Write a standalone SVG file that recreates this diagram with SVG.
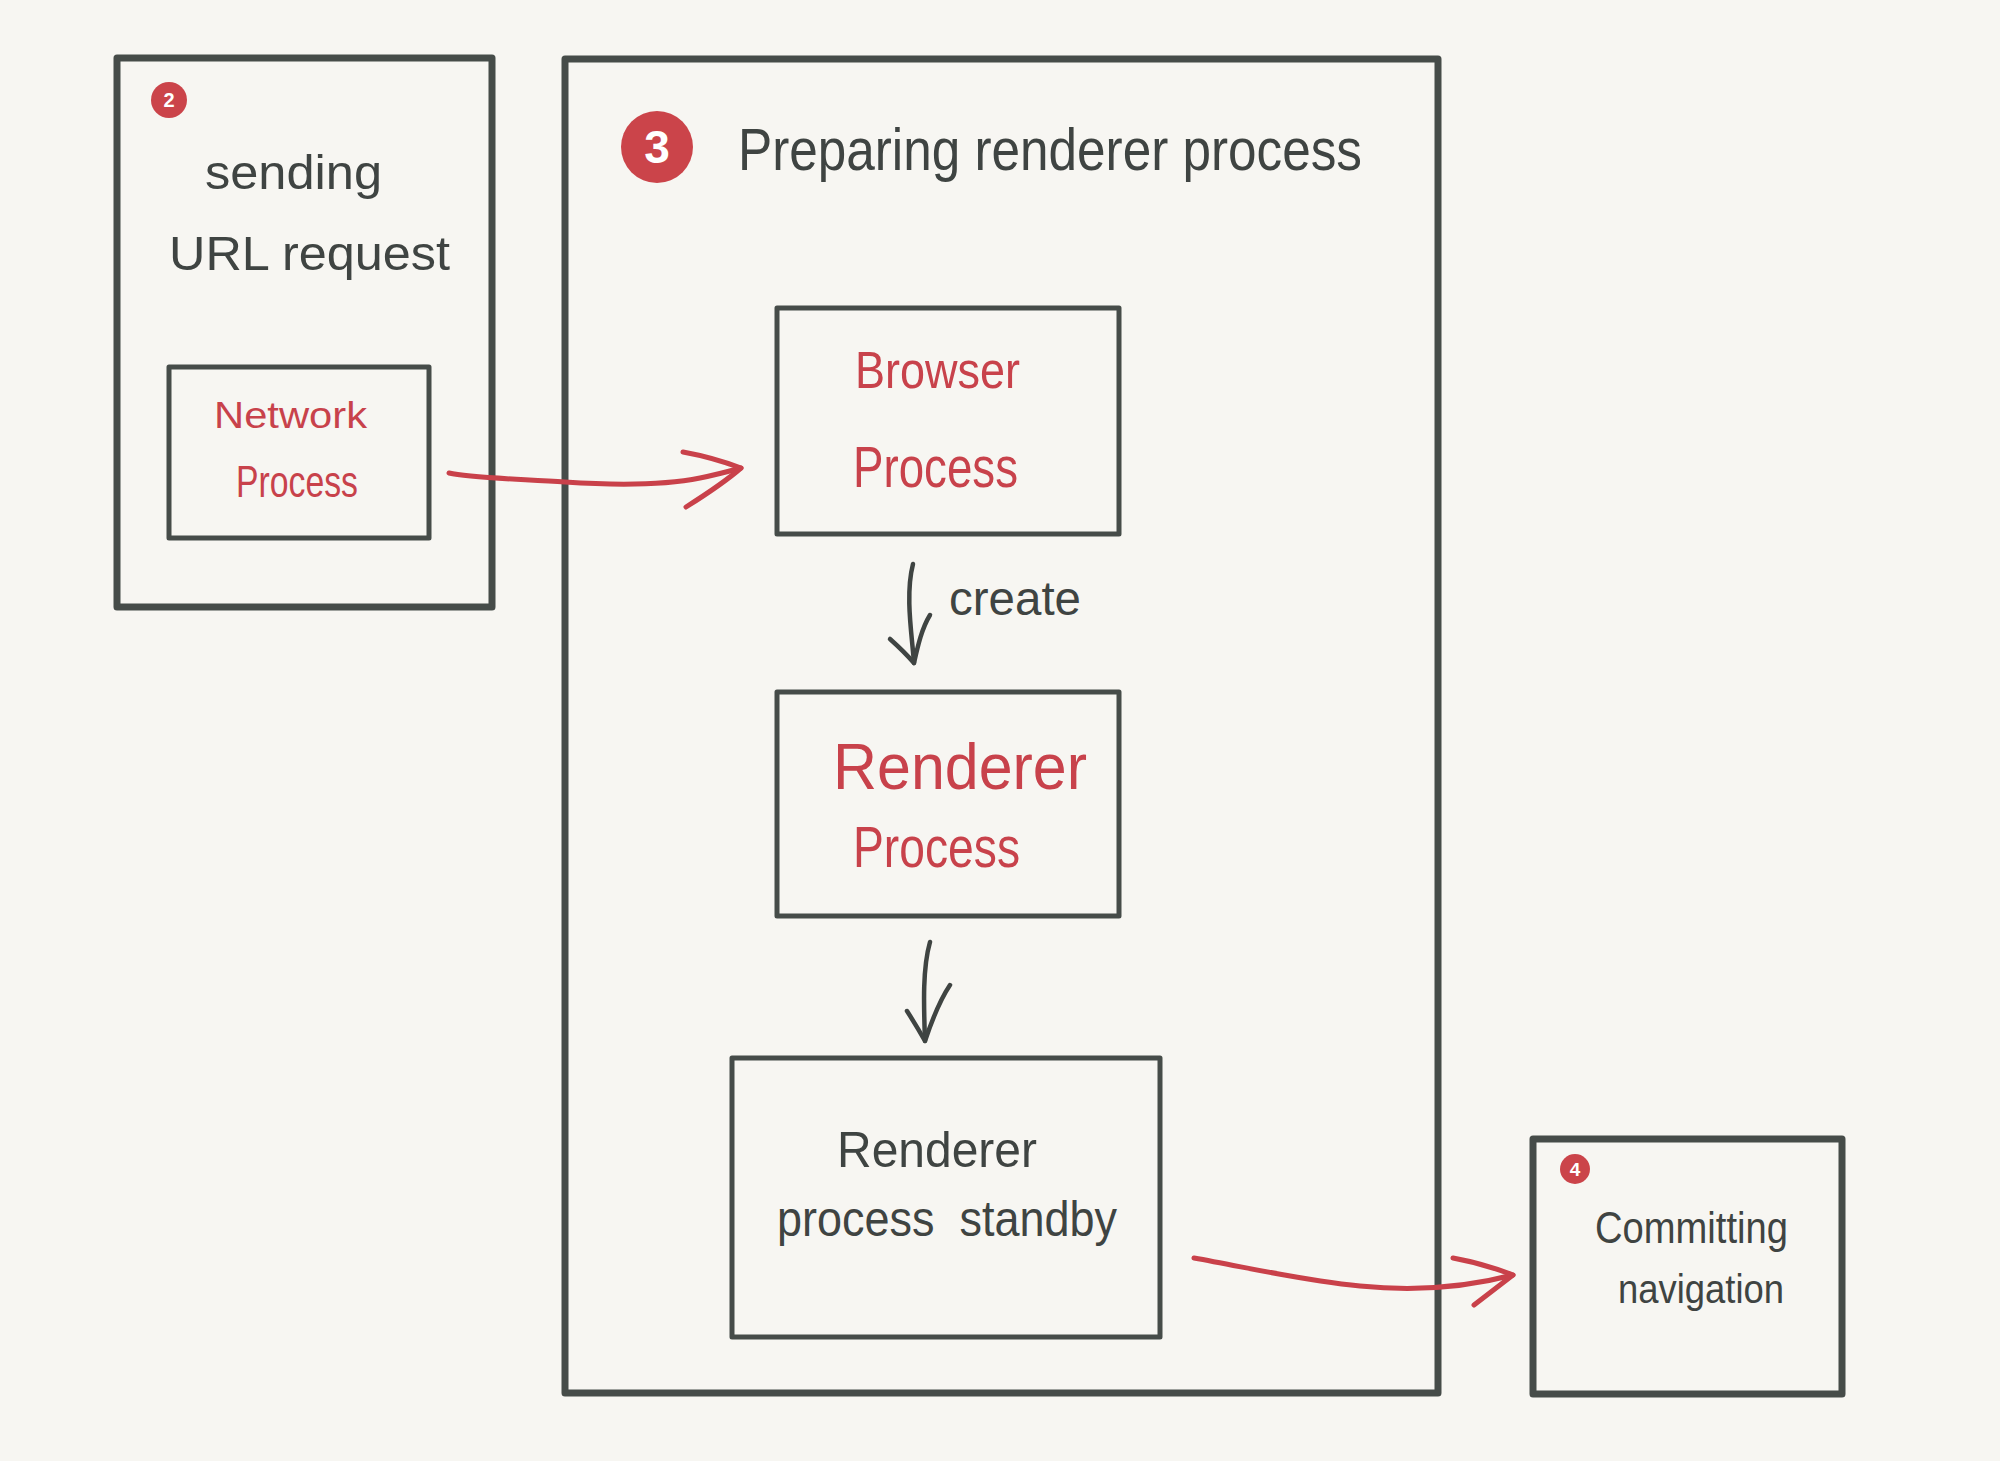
<svg xmlns="http://www.w3.org/2000/svg" width="2000" height="1461" viewBox="0 0 2000 1461">
<style>
.bg{fill:#f7f6f2}
.frame{fill:none;stroke:#464c49;stroke-width:7;stroke-linejoin:round}
.box{fill:none;stroke:#464c49;stroke-width:5;stroke-linejoin:round}
.dark{fill:#3f4442;font-family:"Liberation Sans",Arial,sans-serif}
.red{fill:#c8424b;font-family:"Liberation Sans",Arial,sans-serif}
.badge{fill:#cb444a}
.num{fill:#ffffff;font-family:"Liberation Sans",Arial,sans-serif;font-weight:bold;text-anchor:middle}
.cr{fill:none;stroke:#c9414a;stroke-width:5;stroke-linecap:round;stroke-linejoin:round}
.cd{fill:none;stroke:#3f4442;stroke-width:4.5;stroke-linecap:round;stroke-linejoin:round}
</style>
<rect class="bg" x="0" y="0" width="2000" height="1461"/>

<g id="step2">
<rect class="frame" x="117" y="58" width="375" height="549"/>
<circle class="badge" cx="169" cy="100" r="18"/>
<text class="num" x="169" y="107" font-size="20">2</text>
<text class="dark" x="205" y="189" font-size="48" textLength="177" lengthAdjust="spacingAndGlyphs">sending</text>
<text class="dark" x="169" y="270" font-size="48" textLength="281" lengthAdjust="spacingAndGlyphs">URL request</text>
</g>

<g id="network">
<rect class="box" x="169" y="367" width="260" height="171"/>
<text class="red" x="214" y="428" font-size="36" textLength="153" lengthAdjust="spacingAndGlyphs">Network</text>
<text class="red" x="236" y="497" font-size="44" textLength="122" lengthAdjust="spacingAndGlyphs">Process</text>
</g>

<g id="step3">
<rect class="frame" x="565" y="59" width="873" height="1334"/>
<circle class="badge" cx="657" cy="147" r="36"/>
<text class="num" x="657" y="163" font-size="46">3</text>
<text class="dark" x="738" y="170" font-size="60" textLength="624" lengthAdjust="spacingAndGlyphs">Preparing renderer process</text>
</g>

<g id="browser">
<rect class="box" x="777" y="308" width="342" height="226"/>
<text class="red" x="855" y="388" font-size="52" textLength="165" lengthAdjust="spacingAndGlyphs">Browser</text>
<text class="red" x="853" y="487" font-size="58" textLength="165" lengthAdjust="spacingAndGlyphs">Process</text>
</g>

<g id="renderer">
<rect class="box" x="777" y="692" width="342" height="224"/>
<text class="red" x="833" y="789" font-size="64" textLength="254" lengthAdjust="spacingAndGlyphs">Renderer</text>
<text class="red" x="853" y="867" font-size="58" textLength="167" lengthAdjust="spacingAndGlyphs">Process</text>
</g>

<g id="standby">
<rect class="box" x="732" y="1058" width="428" height="279"/>
<text class="dark" x="837" y="1167" font-size="50" textLength="200" lengthAdjust="spacingAndGlyphs">Renderer</text>
<text class="dark" x="777" y="1236" font-size="50" textLength="340" lengthAdjust="spacingAndGlyphs" xml:space="preserve">process  standby</text>
</g>

<g id="step4">
<rect class="frame" x="1533" y="1139" width="309" height="255"/>
<circle class="badge" cx="1575" cy="1169" r="15"/>
<text class="num" x="1575" y="1176" font-size="19">4</text>
<text class="dark" x="1595" y="1243" font-size="44" textLength="193" lengthAdjust="spacingAndGlyphs">Committing</text>
<text class="dark" x="1618" y="1303" font-size="40" textLength="166" lengthAdjust="spacingAndGlyphs">navigation</text>
</g>

<g id="connectors">
<path class="cr" d="M449,473 C470,478 520,479 565,482 C610,485 660,486 700,478 C715,475 730,471 741,468"/>
<path class="cr" d="M683,452 C705,456 725,462 741,468 C725,482 705,495 686,507"/>
<path class="cd" d="M913,564 C905,595 912,635 914,663"/>
<path class="cd" d="M890,639 C900,648 908,656 914,663 C918,645 922,628 930,615"/>
<text class="dark" x="949" y="615" font-size="48" textLength="132" lengthAdjust="spacingAndGlyphs">create</text>
<path class="cd" d="M930,942 C922,970 924,1010 925,1041"/>
<path class="cd" d="M907,1011 C914,1022 920,1032 925,1041 C932,1020 940,1000 950,985"/>
<path class="cr" d="M1194,1258 C1250,1268 1300,1280 1360,1286 C1410,1291 1460,1289 1513,1275"/>
<path class="cr" d="M1453,1258 C1475,1262 1495,1268 1513,1275 C1500,1285 1487,1295 1474,1305"/>
</g>
</svg>
